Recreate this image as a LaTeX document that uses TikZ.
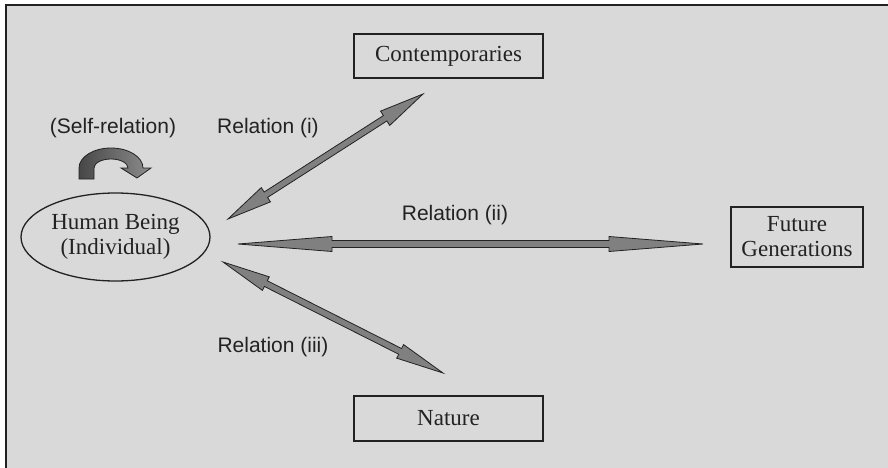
\documentclass[tikz,border=0pt]{standalone}
\usepackage{fontspec}
\setmainfont{Liberation Serif}
\setsansfont{Liberation Sans}
\usetikzlibrary{calc,shapes.geometric}
\definecolor{bg}{HTML}{D9D9D9}
\definecolor{arrowgray}{HTML}{808080}
\definecolor{ink}{HTML}{222222}

% Two-headed block arrow between two named points:
% #1 start, #2 end, #3 head length, #4 head half-width, #5 shaft half-width
\newcommand\bothways[5]{%
  \draw[blockarrow] (#1)
    -- ($(#1)!#3!(#2)!#4!90:(#2)$)
    -- ($(#1)!#3!(#2)!#5!90:(#2)$)
    -- ($(#2)!#3!(#1)!#5!-90:(#1)$)
    -- ($(#2)!#3!(#1)!#4!-90:(#1)$)
    -- (#2)
    -- ($(#2)!#3!(#1)!#4!90:(#1)$)
    -- ($(#2)!#3!(#1)!#5!90:(#1)$)
    -- ($(#1)!#3!(#2)!#5!-90:(#2)$)
    -- ($(#1)!#3!(#2)!#4!-90:(#2)$)
    -- cycle;}

\begin{document}
\begin{tikzpicture}[x=1pt,y=-1pt,
  serifbox/.style={draw=ink, line width=1.3pt, rectangle, inner sep=0pt,
    font=\fontsize{23}{25}\selectfont, text=ink, align=center},
  lbl/.style={font=\sffamily\fontsize{21}{24}\selectfont, text=ink, inner sep=0pt},
  blockarrow/.style={fill=arrowgray, draw=ink, line width=0.8pt, line join=miter}]
\useasboundingbox (0,0) rectangle (888,468);
\clip (0,0) rectangle (888,468);
\fill[white] (0,0) rectangle (888,468);
\draw[fill=bg, draw=ink, line width=2pt] (6,5) rectangle (900,480);

% boxes
\node[serifbox, minimum width=189pt, minimum height=44pt] (cont) at (448.5,56) {Contemporaries};
\node[serifbox, minimum width=132pt, minimum height=60pt] (future) at (797,237) {Future\\Generations};
\node[serifbox, minimum width=189pt, minimum height=45pt] (nature) at (448.5,418.5) {Nature};
\node[serifbox, ellipse, minimum width=189pt, minimum height=88pt] (human) at (115.5,237) {Human Being\\(Individual)};

% labels
\node[lbl] (selflbl) at (113,128) {(Self-relation)};
\node[lbl] (rel1) at (268,128) {Relation (i)};
\node[lbl] (rel2) at (455,215) {Relation (ii)};
\node[lbl] (rel3) at (273,347) {Relation (iii)};

% arrow end points
\coordinate (h1) at (228,219);
\coordinate (c1) at (423,94);
\coordinate (h2) at (238,244);
\coordinate (f2) at (703,244);
\coordinate (h3) at (223,262);
\coordinate (n3) at (443,373);

\bothways{h1}{c1}{45pt}{8.5pt}{3.2pt}
\bothways{h2}{f2}{94pt}{7.5pt}{3.5pt}
\bothways{h3}{n3}{48pt}{7.6pt}{3.2pt}

% curved self-relation arrow
\shadedraw[left color=black!72, right color=black!45, draw=ink, line width=0.8pt, line join=miter]
  (79,179) -- (79,168)
  .. controls (79,156.95) and (93.33,148) .. (111,148)
  .. controls (128.67,148) and (143,156.95) .. (143,168)
  -- (151,168) -- (137,178) -- (121,168) -- (128,168)
  .. controls (128,163.03) and (120.39,159) .. (111,159)
  .. controls (101.61,159) and (94,163.03) .. (94,168)
  -- (94,179) -- cycle;
\end{tikzpicture}
\end{document}
